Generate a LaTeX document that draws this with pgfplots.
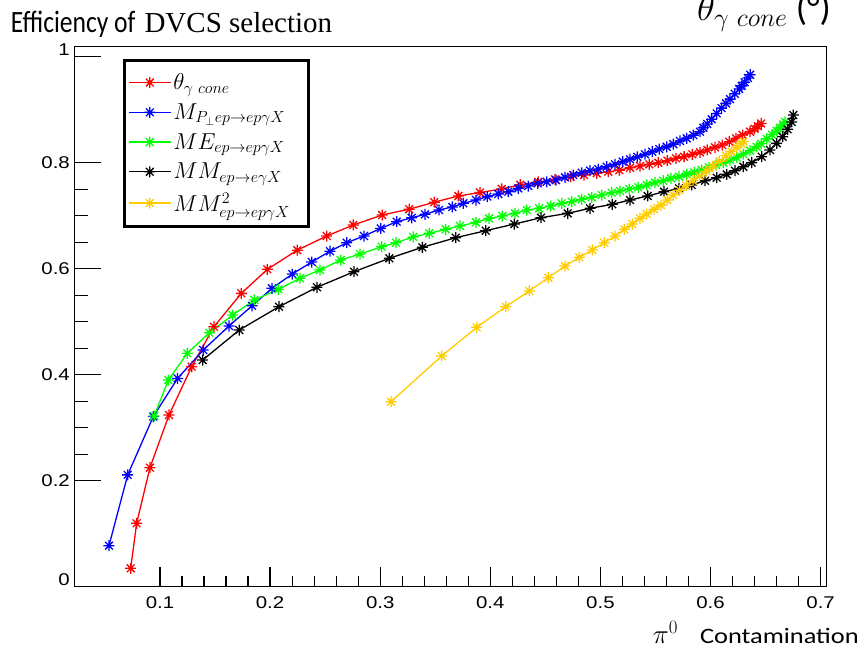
\RequirePackage{fix-cm}
\documentclass[border=0pt]{standalone}
\usepackage{graphicx}
\usepackage{fontspec}
\setmainfont{Carlito}
\newfontfamily\arialfont{Liberation Sans}
\newfontfamily\seriffont{Liberation Serif}
\usepackage{pgfplots}
\pgfplotsset{compat=1.18}

\definecolor{rootyellow}{RGB}{255,204,0}
\definecolor{rootgreen}{RGB}{0,255,0}

% ROOT style star marker (+ and x)
\pgfdeclareplotmark{rootstar}{%
  \pgfpathmoveto{\pgfqpoint{-\pgfplotmarksize}{0pt}}%
  \pgfpathlineto{\pgfqpoint{\pgfplotmarksize}{0pt}}%
  \pgfpathmoveto{\pgfqpoint{0pt}{-\pgfplotmarksize}}%
  \pgfpathlineto{\pgfqpoint{0pt}{\pgfplotmarksize}}%
  \pgfpathmoveto{\pgfqpoint{-0.707\pgfplotmarksize}{-0.707\pgfplotmarksize}}%
  \pgfpathlineto{\pgfqpoint{0.707\pgfplotmarksize}{0.707\pgfplotmarksize}}%
  \pgfpathmoveto{\pgfqpoint{-0.707\pgfplotmarksize}{0.707\pgfplotmarksize}}%
  \pgfpathlineto{\pgfqpoint{0.707\pgfplotmarksize}{-0.707\pgfplotmarksize}}%
  \pgfusepathqstroke}

\newcommand{\legfont}{\fontsize{23}{27}\selectfont}

\pgfplotsset{
  frame/.style={
    scale only axis, width=752.4pt, height=540pt,
    xmin=0.0222, xmax=0.7055, ymin=0, ymax=1.0189,
    tick align=inside,
    tick style={black, line width=1.2pt},
    /pgf/number format/assume math mode=true,
    ticklabel style={font=\fontsize{17}{20}\selectfont\arialfont, inner sep=0pt},
    xticklabel={\scalebox{1.2}[1]{\pgfmathprintnumber{\tick}}},
    yticklabel={\scalebox{1.2}[1]{\pgfmathprintnumber{\tick}}},
  },
}

\begin{document}
\begin{tikzpicture}
\useasboundingbox (-74.3pt,-64.3pt) rectangle (790.7pt,586.7pt);

\begin{axis}[frame,
    axis line style={black, line width=1.3pt},
    xtick=\empty,
    ytick={0.2,0.4,0.6,0.8},
    extra y ticks={0,1},
    extra y tick style={yticklabel style={yshift=7pt}},
    ytick pos=left,
    minor y tick num=3,
    major tick length=27pt, minor tick length=14pt,
    yticklabel style={xshift=-4.3pt},
    every mark/.append style={solid, line width=1.3pt},
    legend image code/.code={\draw[line width=1.3pt, mark repeat=2, mark phase=2, #1]
      plot coordinates {(0pt,0pt) (21pt,0pt) (42pt,0pt)};},
    legend style={at={(axis description cs:0.0643,0.9767)}, anchor=north west,
      draw=black, line width=3pt, fill=white, font=\legfont,
      inner xsep=4pt, inner ysep=11pt, row sep=8.5pt,
      nodes={inner xsep=2pt, inner ysep=2pt}},
    legend cell align=left,
]

\addplot[red, line width=1.3pt, mark=rootstar, mark size=5.5pt] coordinates {
(0.0734,0.0347) (0.0788,0.1196) (0.0909,0.2245) (0.1082,0.324) (0.1288,0.415)
(0.149,0.4906) (0.1739,0.5535) (0.1975,0.5988) (0.2247,0.635) (0.2514,0.6617)
(0.2756,0.6825) (0.3018,0.7013) (0.3263,0.7123) (0.3491,0.7255) (0.371,0.7372)
(0.3906,0.7437) (0.4103,0.7505) (0.4273,0.7585) (0.4436,0.764) (0.4587,0.7686)
(0.473,0.7736) (0.4851,0.7768) (0.4966,0.780) (0.5072,0.783) (0.5172,0.786)
(0.5269,0.7906) (0.536,0.7937) (0.5444,0.797) (0.5526,0.800) (0.5608,0.8038)
(0.5687,0.8083) (0.576,0.8113) (0.5835,0.8158) (0.5904,0.8196) (0.5971,0.824)
(0.604,0.829) (0.6107,0.8334) (0.617,0.8396) (0.6232,0.846) (0.6292,0.8522)
(0.6359,0.8585) (0.640,0.864) (0.643,0.869) (0.646,0.874)
};
\addlegendentry{\legfont$\theta_{\gamma\ cone}$}

\addplot[blue, line width=1.3pt, mark=rootstar, mark size=5.5pt] coordinates {
(0.0537,0.0774) (0.0707,0.211) (0.0939,0.321) (0.116,0.393) (0.1393,0.4466)
(0.1627,0.4919) (0.1836,0.530) (0.2017,0.563) (0.2202,0.590) (0.2378,0.6126)
(0.2544,0.633) (0.2696,0.649) (0.2853,0.6617) (0.3005,0.676) (0.315,0.6887)
(0.3286,0.696) (0.3407,0.7026) (0.3534,0.7108) (0.3655,0.7165) (0.3755,0.7234)
(0.387,0.7296) (0.3973,0.736) (0.4073,0.741) (0.4164,0.7453) (0.4254,0.7516)
(0.4345,0.756) (0.443,0.761) (0.4512,0.764) (0.4597,0.7673) (0.4678,0.7724)
(0.4754,0.7768) (0.483,0.781) (0.4906,0.785) (0.4981,0.788) (0.5057,0.7925)
(0.5133,0.797) (0.5203,0.802) (0.5269,0.8064) (0.5335,0.811) (0.5405,0.816)
(0.5471,0.8207) (0.5535,0.8258) (0.5602,0.830) (0.5662,0.835) (0.5723,0.841)
(0.5784,0.846) (0.5844,0.852) (0.5904,0.8585) (0.5935,0.866) (0.597,0.873)
(0.601,0.882) (0.6056,0.893) (0.610,0.903) (0.614,0.912) (0.6177,0.920)
(0.622,0.930) (0.626,0.939) (0.6283,0.945) (0.631,0.952) (0.634,0.960) (0.636,0.966)
};
\addlegendentry{\legfont$M_{P_\perp ep\rightarrow ep\gamma X}$\rule{17pt}{0pt}}

\addplot[rootgreen, line width=1.3pt, mark=rootstar, mark size=5.5pt] coordinates {
(0.0948,0.322) (0.1076,0.39) (0.1248,0.4403) (0.1448,0.479) (0.166,0.5126)
(0.1857,0.541) (0.2075,0.561) (0.2272,0.582) (0.2453,0.5975) (0.2641,0.6164)
(0.2817,0.6277) (0.3014,0.6415) (0.3143,0.649) (0.330,0.660) (0.3446,0.6668)
(0.3595,0.6743) (0.3725,0.6806) (0.387,0.6875) (0.3988,0.695) (0.4109,0.6994)
(0.4224,0.7045) (0.4331,0.7107) (0.4443,0.714) (0.4548,0.7183) (0.4648,0.7233)
(0.4739,0.7264) (0.483,0.731) (0.4921,0.7347) (0.5012,0.739) (0.5103,0.7434)
(0.5178,0.7466) (0.5262,0.7503) (0.5344,0.7535) (0.542,0.758) (0.5496,0.7623)
(0.5571,0.766) (0.5641,0.7705) (0.5714,0.7736) (0.5784,0.778) (0.5853,0.7818)
(0.592,0.786) (0.5986,0.7913) (0.605,0.7957) (0.6116,0.800) (0.6177,0.805)
(0.6238,0.810) (0.6298,0.8164) (0.6359,0.8226) (0.6419,0.830) (0.646,0.836)
(0.651,0.845) (0.656,0.853) (0.660,0.860) (0.6631,0.866) (0.666,0.872) (0.6677,0.877)
};
\addlegendentry{\legfont$ME_{ep\rightarrow ep\gamma X}$}

\addplot[black, line width=1.3pt, mark=rootstar, mark size=5.5pt] coordinates {
(0.1388,0.4277) (0.172,0.4843) (0.2081,0.5283) (0.2426,0.565) (0.2762,0.5943)
(0.3083,0.6196) (0.3383,0.6404) (0.3686,0.6585) (0.3958,0.6717) (0.4218,0.6843)
(0.446,0.6962) (0.4703,0.7045) (0.4906,0.714) (0.5108,0.7215) (0.5269,0.7296)
(0.5429,0.7372) (0.5578,0.7453) (0.5714,0.7516) (0.5829,0.758) (0.595,0.766)
(0.6056,0.7717) (0.6147,0.778) (0.6222,0.785) (0.6298,0.7925) (0.6374,0.800)
(0.6465,0.8113) (0.654,0.824) (0.6601,0.8365) (0.6655,0.849) (0.670,0.863)
(0.6737,0.877) (0.6752,0.890)
};
\addlegendentry{\legfont$MM_{ep\rightarrow e\gamma X}$}

\addplot[rootyellow, line width=1.3pt, mark=rootstar, mark size=5.5pt] coordinates {
(0.3098,0.349) (0.3559,0.4353) (0.3876,0.4894) (0.414,0.5283) (0.4354,0.558)
(0.4527,0.583) (0.4678,0.605) (0.4808,0.6215) (0.4926,0.6353) (0.5035,0.649)
(0.5133,0.6617) (0.5217,0.6743) (0.529,0.6843) (0.536,0.695) (0.542,0.7032)
(0.5487,0.712) (0.555,0.720) (0.5608,0.7296) (0.5662,0.739) (0.572,0.748)
(0.578,0.757) (0.584,0.766) (0.590,0.775) (0.596,0.784) (0.602,0.793)
(0.608,0.803) (0.614,0.813) (0.619,0.821) (0.624,0.829) (0.628,0.836) (0.630,0.840)
};
\addlegendentry{\legfont$MM^2_{ep\rightarrow ep\gamma X}$}

\end{axis}

% second axis only for the x ticks, which are shorter than the y ticks
\begin{axis}[frame,
    axis line style={draw=none},
    ytick=\empty,
    xtick={0.1,0.2,0.3,0.4,0.5,0.6,0.7},
    xtick pos=bottom,
    minor x tick num=4,
    major tick length=20pt, minor tick length=10.5pt,
    xticklabel style={yshift=-9.5pt},
]
\end{axis}

\node[anchor=base west, inner sep=0pt] at (-63.6pt,554pt)
  {\scalebox{0.825}[1]{\fontsize{31}{36}\selectfont Efficiency of}\hspace{9pt}%
   {\seriffont\fontsize{29}{34}\selectfont DVCS selection}};
\node[anchor=base west, inner sep=0pt] at (622.7pt,565.7pt)
  {\fontsize{37}{43}\selectfont$\theta_{\gamma\ cone}$ (°)};
\node[anchor=base west, inner sep=0pt] at (578.4pt,-56.6pt)
  {\fontsize{27}{30}\selectfont$\pi^0$\hspace{22pt}%
   \scalebox{1.2}[1]{\fontsize{22}{26}\selectfont Contamination}};
\end{tikzpicture}
\end{document}
